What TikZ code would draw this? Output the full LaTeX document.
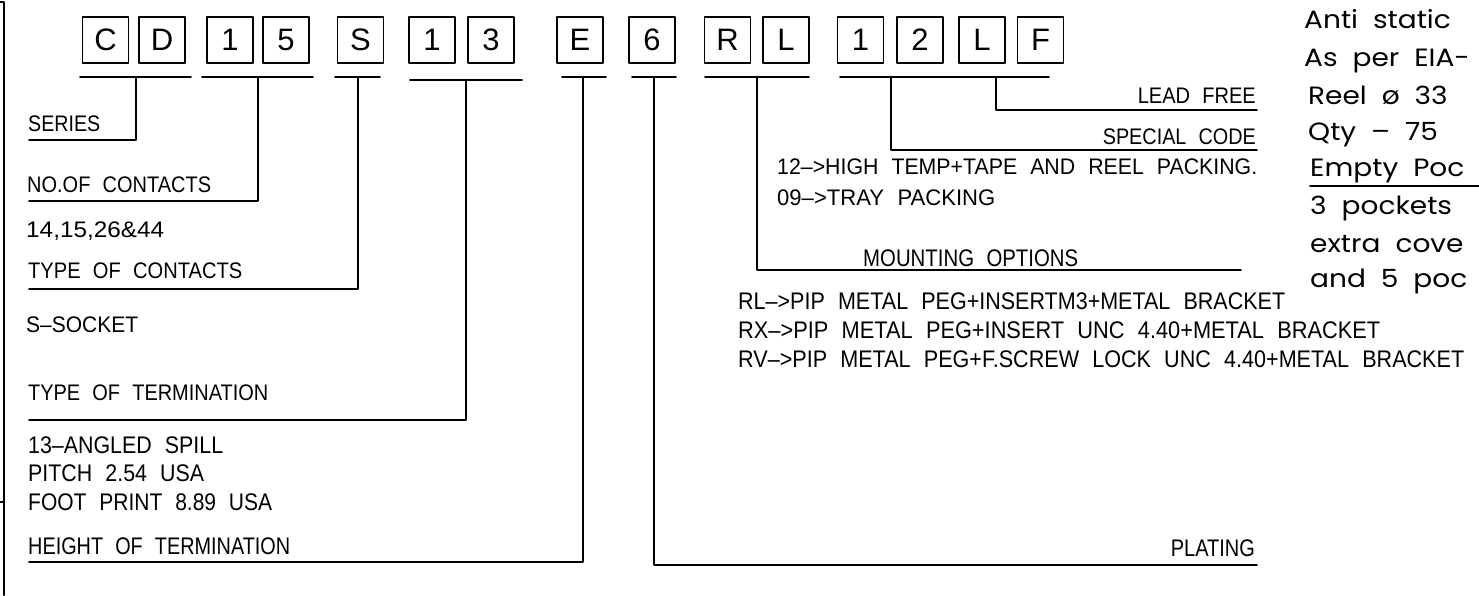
\documentclass[tikz,border=0pt]{standalone}
\usepackage{fontspec}
\usepackage{graphicx}
\setmainfont{Liberation Sans}[WordSpace=2.2]
\newfontfamily\notefont{Poppins}[FakeStretch=1.12, WordSpace=2]
\usetikzlibrary{positioning}

% squeeze a text to a given width, keeping its height
\newcommand\fitto[2]{\resizebox{#1pt}{\height}{#2}}

\tikzset{
  codebox/.style={draw, line width=1.4pt, minimum width=46pt, minimum height=46pt,
    inner sep=0pt, font=\fontsize{31}{31}\selectfont},
  lead/.style={line width=1.8pt},
  caption/.style={anchor=base west, inner sep=0pt, font=\fontsize{22.5}{22.5}\selectfont},
  rcaption/.style={caption, anchor=base east},
  cadcaption/.style={caption, font=\fontsize{24}{24}\selectfont},
  note/.style={anchor=base west, inner sep=0pt, font=\notefont\fontsize{25}{25}\selectfont},
}

\begin{document}
\begin{tikzpicture}[x=1pt, y=-1pt, line join=round, line cap=round]
  \useasboundingbox (0,0) rectangle (1479,595);
  \clip (0,0) rectangle (1479,595);

  % Frame edge
  \draw[line width=2.4pt] (0,2) -- (4,2) -- (4,595);
  \draw[lead] (0,502) -- (4,502);

  % Code boxes
  \foreach \name/\x/\txt in {c1/105.5/C, c2/162/D, n1/230/1, n2/286/5, t1/360.5/S,
      e1/432/1, e2/491/3, h1/580/E, p1/652/6, m1/727.5/R, m2/786/L,
      s1/860.5/1, s2/920/2, f1/982/L, f2/1040.5/F}
    \node[codebox] (\name) at (\x,40) {\txt};

  % Drop points and leader ends
  \coordinate (serTop) at (136,77);  \coordinate (serEnd) at (29,140);
  \coordinate (conTop) at (258,77);  \coordinate (conEnd) at (29,201);
  \coordinate (typTop) at (358,77);  \coordinate (typEnd) at (29,289);
  \coordinate (trmTop) at (466,80);  \coordinate (trmEnd) at (29,420);
  \coordinate (hgtTop) at (583,77);  \coordinate (hgtEnd) at (29,562);
  \coordinate (plaTop) at (654,77);  \coordinate (plaEnd) at (1257,565);
  \coordinate (mntTop) at (757,77);  \coordinate (mntEnd) at (1241,270);
  \coordinate (spcTop) at (891,77);  \coordinate (spcEnd) at (1257,150);
  \coordinate (ledTop) at (996,77);  \coordinate (ledEnd) at (1257,110);

  % Bars under the groups
  \draw[lead] ([xshift=-56pt]serTop) -- ([xshift=55pt]serTop);
  \draw[lead] ([xshift=-56pt]conTop) -- ([xshift=55pt]conTop);
  \draw[lead] ([xshift=-23pt]typTop) -- ([xshift=22pt]typTop);
  \draw[lead] ([xshift=-56pt]trmTop) -- ([xshift=56pt]trmTop);
  \draw[lead] ([xshift=-21pt]hgtTop) -- ([xshift=23pt]hgtTop);
  \draw[lead] ([xshift=-22pt]plaTop) -- ([xshift=22pt]plaTop);
  \draw[lead] ([xshift=-52pt]mntTop) -- ([xshift=52pt]mntTop);
  \draw[lead] ([xshift=-51pt]spcTop) -- ([xshift=158pt]spcTop);

  % Leaders
  \draw[lead] (serTop) |- (serEnd);
  \draw[lead] (conTop) |- (conEnd);
  \draw[lead] (typTop) |- (typEnd);
  \draw[lead] (trmTop) |- (trmEnd);
  \draw[lead] (hgtTop) |- (hgtEnd);
  \draw[lead] (plaTop) |- (plaEnd);
  \draw[lead] (mntTop) |- (mntEnd);
  \draw[lead] (spcTop) |- (spcEnd);
  \draw[lead] (ledTop) |- (ledEnd);

  % Left captions
  \node[caption] (series) at (28,131) {\fitto{72}{SERIES}};
  \node[caption] (contacts) at (27,192) {\fitto{184}{NO.OF CONTACTS}};
  \node[caption] (counts) at (26,237) {\fitto{138}{14,15,26\&44}};
  \node[caption] (ctype) at (28,278) {\fitto{214}{TYPE OF CONTACTS}};
  \node[caption] (socket) at (26,332) {\fitto{112}{S--SOCKET}};
  \node[caption] (ttype) at (28,400) {\fitto{240}{TYPE OF TERMINATION}};
  \node[cadcaption] (spill) at (28,453) {\fitto{195}{13--ANGLED SPILL}};
  \node[cadcaption] (pitch) at (28,481) {\fitto{176}{PITCH 2.54 USA}};
  \node[cadcaption] (foot) at (28,510) {\fitto{244}{FOOT PRINT 8.89 USA}};
  \node[cadcaption] (height) at (28,554) {\fitto{262}{HEIGHT OF TERMINATION}};

  % Right captions
  \node[rcaption] (lead) at (1256,103) {\fitto{118}{LEAD FREE}};
  \node[rcaption] (special) at (1256,144) {\fitto{153}{SPECIAL CODE}};
  \node[caption] (hitemp) at (777,174) {\fitto{480}{12-->HIGH TEMP+TAPE AND REEL PACKING.}};
  \node[caption] (tray) at (777,205) {\fitto{218}{09-->TRAY PACKING}};
  \node[cadcaption] (mount) at (863,266) {\fitto{215}{MOUNTING OPTIONS}};
  \node[cadcaption] (rl) at (738,309) {\fitto{547}{RL-->PIP METAL PEG+INSERTM3+METAL BRACKET}};
  \node[cadcaption] (rx) at (738,338) {\fitto{642}{RX-->PIP METAL PEG+INSERT UNC 4.40+METAL BRACKET}};
  \node[cadcaption] (rv) at (738,367) {\fitto{726}{RV-->PIP METAL PEG+F.SCREW LOCK UNC 4.40+METAL BRACKET}};
  \node[cadcaption, anchor=base east] (plating) at (1255,556) {\fitto{84}{PLATING}};

  % Packing notes
  \node[note] (anti) at (1304,28) {Anti static};
  \node[note] (eia) at (1304,66) {As per EIA-};
  \node[note] (reel) at (1308,104) {Reel ø 33};
  \node[note] (qty) at (1308,140) {Qty – 75};
  \node[note] (empty) at (1310,176) {Empty Poc};
  \coordinate (emptyEnd) at (1479,186);
  \draw[lead] (empty.base west |- emptyEnd) -- (emptyEnd);
  \node[note] (pockets) at (1310,214) {3 pockets};
  \node[note] (cover) at (1310,252) {extra cove};
  \node[note] (five) at (1310,287) {and 5 poc};
\end{tikzpicture}
\end{document}
